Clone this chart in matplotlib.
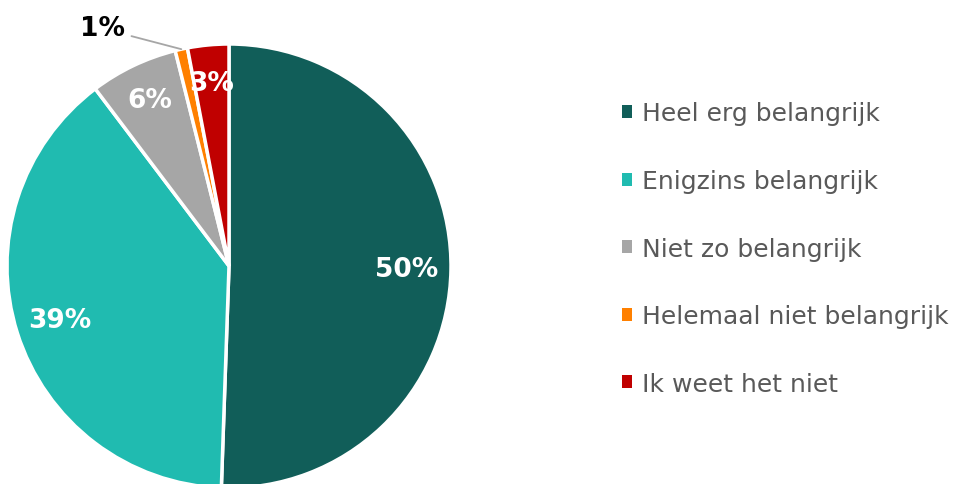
import matplotlib
matplotlib.use('Agg')
import matplotlib.pyplot as plt
import numpy as np

categories = ['Heel erg belangrijk', 'Enigzins belangrijk', 'Niet zo belangrijk',
              'Helemaal niet belangrijk', 'Ik weet het niet']
values = [50.6, 39.2, 6.4, 0.9, 3.0]
pct_labels = ['50%', '39%', '6%', '1%', '3%']
colors = ['#115E59', '#20BBB0', '#A6A6A6', '#FF8000', '#C00000']

plt.rcParams['font.family'] = ['DejaVu Sans']

fig = plt.figure(figsize=(9.61, 4.85), dpi=100)
R = 222
ax = fig.add_axes([(229 - R) / 961, (485 - 267 - R) / 485, 2 * R / 961, 2 * R / 485])
wedges, _ = ax.pie(values, colors=colors, startangle=90, counterclock=False,
                   wedgeprops=dict(edgecolor='white', linewidth=2.5))
ax.set_xlim(-1, 1)
ax.set_ylim(-1, 1)

for w, lab, v in zip(wedges, pct_labels, values):
    mid = np.deg2rad((w.theta1 + w.theta2) / 2)
    if lab == '1%':
        x0, y0 = np.cos(mid), np.sin(mid)
        ax.annotate(lab, xy=(x0 * 1.0, y0 * 1.0), xytext=(-0.47, 1.07),
                    ha='right', va='center', fontsize=19, fontweight='bold', color='black',
                    arrowprops=dict(arrowstyle='-', color='#A6A6A6', lw=1.3,
                                    shrinkA=3, shrinkB=0),
                    annotation_clip=False)
    else:
        r = 0.8 if v > 10 else 0.83
        ax.text(r * np.cos(mid), r * np.sin(mid), lab, ha='center', va='center',
                fontsize=19, fontweight='bold', color='white')

leg = fig.legend(wedges, categories, loc='upper left', bbox_to_anchor=(599 / 961, 1 - 80 / 485),
                 frameon=False, fontsize=18, labelcolor='#595959',
                 handlelength=0.42, handleheight=0.42, handletextpad=0.42,
                 labelspacing=1.74)
for h in leg.legend_handles:
    h.set_linewidth(0)

fig.savefig('out.png', dpi=100)
